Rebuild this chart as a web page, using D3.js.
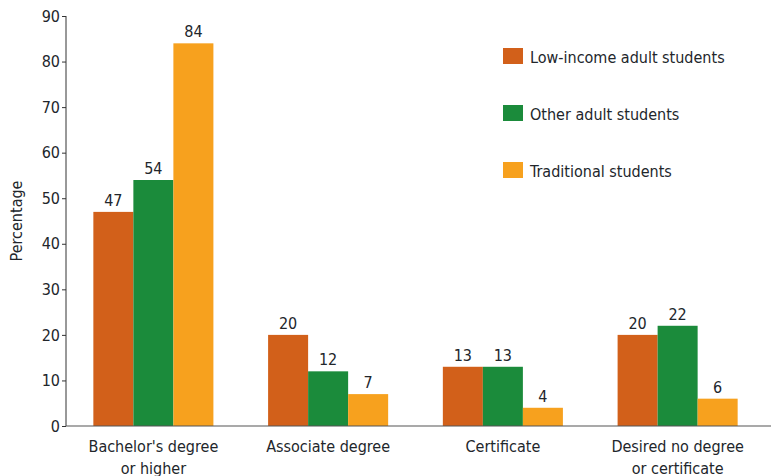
<!DOCTYPE html>
<html>
<head>
<meta charset="utf-8">
<script src="https://cdn.jsdelivr.net/npm/d3@7"></script>
<style>
  body { margin: 0; background: #fff; }
  svg text { font-family: "Liberation Sans Narrow", "DejaVu Sans Condensed", sans-serif; fill: #22262b; }
</style>
</head>
<body>
<script>
// data
var categories = [["Bachelor's degree", "or higher"], ["Associate degree"], ["Certificate"], ["Desired no degree", "or certificate"]];
var seriesNames = ["Low-income adult students", "Other adult students", "Traditional students"];
var lowIncome = [47, 20, 13, 20];
var otherAdult = [54, 12, 13, 22];
var traditional = [84, 7, 4, 6];
var yTicks = [0, 10, 20, 30, 40, 50, 60, 70, 80, 90];
var colors = ["#d2601a", "#1b8b3b", "#f7a11e"];

function main() {
  var width = 771, height = 476;
  var series = [lowIncome, otherAdult, traditional];

  var svg = d3.select("body").append("svg")
    .attr("width", width)
    .attr("height", height);

  var x0 = d3.scaleBand()
    .domain(d3.range(categories.length))
    .range([66, 765])
    .paddingInner(0.313)
    .paddingOuter(0.1565);

  var x1 = d3.scaleBand()
    .domain(d3.range(series.length))
    .range([0, x0.bandwidth()]);

  var y = d3.scaleLinear().domain([0, 90]).range([426, 16]);

  // bars
  var groups = svg.selectAll("g.grp")
    .data(categories)
    .enter().append("g")
    .attr("class", "grp")
    .attr("transform", function (d, i) { return "translate(" + x0(i) + ",0)"; });

  groups.selectAll("rect")
    .data(function (d, i) { return series.map(function (s, k) { return { k: k, v: s[i] }; }); })
    .enter().append("rect")
    .attr("x", function (d) { return x1(d.k); })
    .attr("y", function (d) { return y(d.v); })
    .attr("width", x1.bandwidth())
    .attr("height", function (d) { return y(0) - y(d.v); })
    .attr("fill", function (d) { return colors[d.k]; });

  groups.selectAll("text.val")
    .data(function (d, i) { return series.map(function (s, k) { return { k: k, v: s[i] }; }); })
    .enter().append("text")
    .attr("class", "val")
    .attr("x", function (d) { return x1(d.k) + x1.bandwidth() / 2; })
    .attr("y", function (d) { return y(d.v) - 6; })
    .attr("text-anchor", "middle")
    .style("font-size", "16px")
    .text(function (d) { return d.v; });

  // y axis
  var yAxis = svg.append("g")
    .attr("transform", "translate(66,0)")
    .call(d3.axisLeft(y).tickValues(yTicks).tickSize(4).tickPadding(2));
  yAxis.select(".domain").attr("stroke", "#333").attr("d", "M0,16V426");
  yAxis.selectAll(".tick line").attr("stroke", "#333");
  yAxis.selectAll(".tick text")
    .attr("fill", null)
    .style("font-size", "16px");

  // x axis line
  svg.append("line")
    .attr("x1", 66).attr("x2", width)
    .attr("y1", y(0)).attr("y2", y(0))
    .attr("stroke", "#555").attr("stroke-width", 1.2);

  // x labels
  var xl = svg.selectAll("text.xl")
    .data(categories)
    .enter().append("text")
    .attr("class", "xl")
    .attr("text-anchor", "middle")
    .style("font-size", "16px")
    .attr("transform", function (d, i) { return "translate(" + (x0(i) + x0.bandwidth() / 2) + ",452)"; });
  xl.selectAll("tspan")
    .data(function (d) { return d; })
    .enter().append("tspan")
    .attr("x", 0)
    .attr("dy", function (d, i) { return i === 0 ? 0 : 22; })
    .text(function (d) { return d; });

  // y label
  svg.append("text")
    .attr("transform", "translate(22,221) rotate(-90)")
    .attr("text-anchor", "middle")
    .style("font-size", "16px")
    .text("Percentage");

  // legend
  var legend = svg.selectAll("g.leg")
    .data(seriesNames)
    .enter().append("g")
    .attr("class", "leg")
    .attr("transform", function (d, i) { return "translate(503," + (48 + i * 57) + ")"; });
  legend.append("rect")
    .attr("width", 20).attr("height", 16)
    .attr("fill", function (d, i) { return colors[i]; });
  legend.append("text")
    .attr("x", 27).attr("y", 15)
    .style("font-size", "16px")
    .text(function (d) { return d; });
}
document.addEventListener("DOMContentLoaded", main);
</script>
</body>
</html>
